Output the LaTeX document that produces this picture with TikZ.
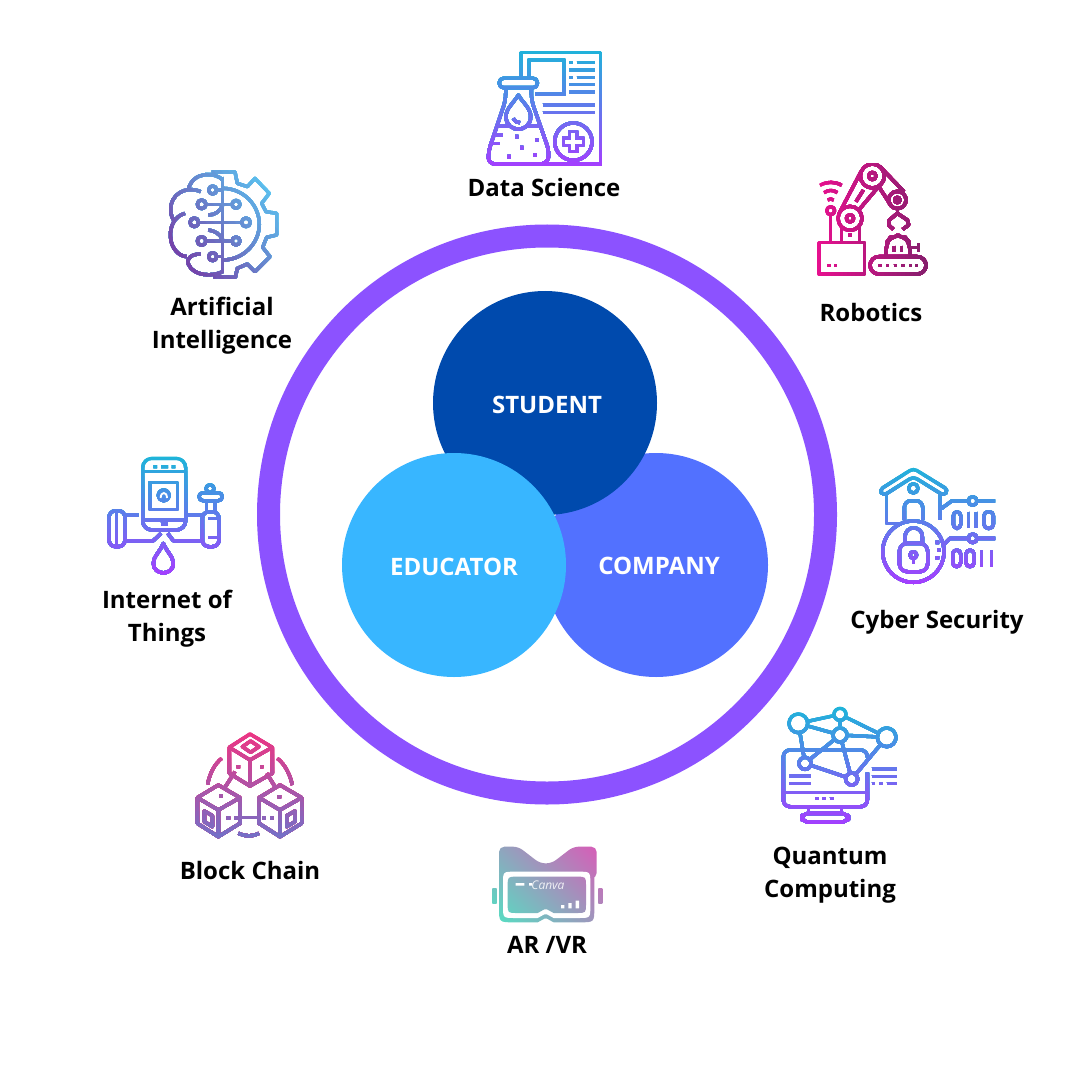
\documentclass[tikz,border=0pt]{standalone}
\usepackage{fontspec}
\setmainfont{Open Sans}
\usetikzlibrary{positioning}

\tikzset{
	iconline/.style={draw=iconcol, line width=2.5pt, line join=round},
	zoomed/.style={shift={#1},x=0.25pt,y=-0.25pt},
	netdot/.style={circle, draw=iconcol, line width=2.5pt, fill=none, inner sep=0pt},
	hubdisc/.style={circle, fill=#1, minimum size=168pt, inner sep=0pt},
	hubtext/.style={text=white, font=\bfseries\fontsize{18}{24}\selectfont},
	labeltext/.style={text=black, align=center, font=\bfseries\fontsize{18}{24.9}\selectfont},
	vrshade/.style={shading=axis, left color=vrteal, middle color=vrmid, right color=vrpink, shading angle=135},
}
\definecolor{ringpurple}{HTML}{8C52FF}
\definecolor{studentblue}{HTML}{004AAD}
\definecolor{companyblue}{HTML}{5271FF}
\definecolor{educatorblue}{HTML}{38B6FF}
\definecolor{cyantop}{HTML}{1CB6D9}
\definecolor{purplebot}{HTML}{A63CFF}
\definecolor{robotleft}{HTML}{E8108F}
\definecolor{robotright}{HTML}{841F6C}
\definecolor{chainpink}{HTML}{F5307E}
\definecolor{chainblue}{HTML}{6C74CC}
\definecolor{brainsky}{HTML}{58D2F8}
\definecolor{brainplum}{HTML}{7A2A9C}
\definecolor{vrpink}{HTML}{D262B8}
\definecolor{vrmid}{HTML}{93B0DC}
\definecolor{vrteal}{HTML}{58DCC2}

% paints one icon again and again, each time cut further along, to get the colour ramp
\newcommand{\gradbands}[6]{
	\foreach \k in {0,...,27} {
		\pgfmathsetmacro\mixval{\k*100/27}
		\colorlet{iconcol}{#5!\mixval!#4}
		\begin{scope}
			\clip[shift={#1},rotate=#3] (-#2,{-#2+\k*2*#2/28}) rectangle (#2,#2);
			#6
		\end{scope}
	}
}
\newcommand{\vrpart}[1]{
	\begin{scope}
		\clip #1;
		\shade[vrshade] (10,-20) rectangle (365,335);
	\end{scope}
}

\newcommand{\iconflask}{
	\begin{scope}[zoomed={(460,40)}]
		\draw[iconline] (183,115)--(183,38)--(422,38)--(422,372)--(250,372);
		\draw[iconline] (207,115)--(207,60)--(312,60)--(312,162)--(225,162);
		\draw[iconline] (328,68)--(340,68) (350,68)--(404,68);
		\draw[iconline] (328,90)--(404,90);
		\draw[iconline] (328,112)--(340,112) (350,112)--(404,112);
		\draw[iconline] (328,134)--(404,134);
		\draw[iconline] (328,156)--(404,156);
		\draw[iconline] (248,195)--(404,195);
		\draw[iconline] (248,218)--(404,218);
		\draw[iconline] (340,305) circle (56);
		\draw[iconline] (329,275)--(351,275)--(351,294)--(370,294)--(370,316)--(351,316)--(351,335)--(329,335)--(329,316)--(310,316)--(310,294)--(329,294)--cycle;
		\draw[iconline, rounded corners=3pt] (118,115) rectangle (232,143);
		\draw[iconline, rounded corners=5pt] (137,143)--(137,180)--(85,335)--(85,372)--(262,372)--(268,335)--(214,180)--(214,143);
		\draw[iconline] (175,165) .. controls (160,190) and (138,205) .. (138,230) .. controls (138,280) and (212,280) .. (212,230) .. controls (212,205) and (190,190) .. (175,165) -- cycle;
		\draw[iconline] (160,235) .. controls (165,245) and (172,248) .. (180,248);
		\draw[iconline] (112,258)--(150,258) (205,258)--(240,258);
		\draw[iconline] (105,285)--(130,285) (95,310)--(120,310);
		\fill[iconcol] (165,285) rectangle (175,295) (225,295) rectangle (235,305) (180,318) rectangle (190,328) (220,340) rectangle (230,350) (142,345) rectangle (152,355);
	\end{scope}
}

\newcommand{\iconrobot}{
	\begin{scope}[zoomed={(800,150)}]
		\draw[iconline] (60,106) .. controls (80,94) and (105,94) .. (125,106);
		\draw[iconline] (72,128) .. controls (85,119) and (100,119) .. (112,128);
		\draw[iconline] (83,150) .. controls (88,146) and (96,146) .. (101,150);
		\draw[iconline] (92,182) circle (12);
		\draw[iconline] (92,194)--(92,278);
		\draw[iconline] (57,278) rectangle (193,372);
		\draw[iconline] (82,346)--(92,346) (102,346)--(112,346);
		\draw[iconline] (150,205) circle (36);
		\draw[iconline] (150,205) circle (11);
		\draw[iconline] (124,278)--(124,232) (178,278)--(178,232);
		\fill[iconcol] (145,250) rectangle (156,262);
		\draw[iconline] (217,78) circle (36);
		\draw[iconline] (217,78) circle (11);
		\draw[iconline] (120,185)--(183,65) (178,178)--(238,107);
		\draw[iconline] (168,155)--(190,120);
		\draw[iconline] (240,50)--(312,125) (235,108)--(272,165);
		\draw[iconline] (292,150) circle (26);
		\draw[iconline] (292,150) circle (8);
		\draw[iconline] (292,176)--(292,190);
		\draw[iconline] (292,190)--(268,210)--(266,225)--(280,238);
		\draw[iconline] (292,190)--(322,210)--(326,225)--(308,238);
		\draw[iconline, rounded corners=6pt] (258,320)--(258,280)--(275,257)--(312,257)--(330,280)--(330,320);
		\draw[iconline] (282,288)--(282,306) (305,288)--(305,306);
		\draw[iconline] (330,292)--(355,292) (355,280)--(355,305);
		\draw[iconline, rounded corners=6.5pt] (210,320) rectangle (378,372);
		\draw[iconline] (235,347)--(245,347) (258,347)--(268,347) (281,347)--(291,347) (304,347)--(314,347) (327,347)--(337,347) (345,347)--(353,347);
	\end{scope}
}

\newcommand{\iconlock}{
	\begin{scope}[zoomed={(860,455)}]
		\draw[iconline, rounded corners=3pt] (58,105)--(160,40)--(265,105)--(252,122)--(160,65)--(70,122)--cycle;
		\draw[iconline] (80,114)--(80,205)--(120,205);
		\draw[iconline] (240,114)--(240,195);
		\draw[iconline] (160,100) circle (14);
		\draw[iconline, rounded corners=5pt] (133,195)--(133,137)--(188,137)--(188,195);
		\draw[iconline] (160,290) circle (92);
		\draw[iconline, rounded corners=6pt] (118,265) rectangle (203,350);
		\draw[iconline] (135,265)--(135,245) .. controls (135,210) and (187,210) .. (187,245) -- (187,265);
		\draw[iconline] (160,300) circle (10);
		\draw[iconline] (160,310)--(160,328);
		\fill[iconcol] (227,257) rectangle (237,267) (231,280) rectangle (241,290) (227,303) rectangle (237,313);
		\draw[iconline] (245,160)--(275,138)--(325,138) (351,138)--(405,138);
		\draw[iconline] (338,138) circle (13);
		\draw[iconline] (248,272)--(270,250)--(325,250) (351,250)--(405,250);
		\draw[iconline] (338,250) circle (13);
		\draw[iconline, rounded corners=3pt] (280,170) rectangle (302,220);
		\draw[iconline] (325,170)--(325,220) (348,170)--(348,220);
		\draw[iconline, rounded corners=3pt] (372,170) rectangle (400,220);
		\draw[iconline, rounded corners=3pt] (278,285) rectangle (302,335);
		\draw[iconline, rounded corners=3pt] (318,285) rectangle (342,335);
		\draw[iconline] (365,285)--(365,335) (395,285)--(395,335);
	\end{scope}
}

\newcommand{\iconquantum}{
	\begin{scope}[zoomed={(770,700)}]
		\node[netdot, minimum size=14pt] (qa) at (85,70) {};
		\node[netdot, minimum size=9pt] (qb) at (210,43) {};
		\node[netdot, minimum size=10.5pt] (qc) at (210,105) {};
		\node[netdot, minimum size=14pt] (qd) at (350,112) {};
		\node[netdot, minimum size=9pt] (qe) at (105,190) {};
		\node[netdot, minimum size=9pt] (qf) at (245,237) {};
		\draw[iconline] (qa)--(qb);
		\draw[iconline] (qa)--(qc);
		\draw[iconline] (qb)--(qc);
		\draw[iconline] (qb)--(qd);
		\draw[iconline] (qc)--(qd);
		\draw[iconline] (qa)--(qe);
		\draw[iconline] (qc)--(qe);
		\draw[iconline] (qc)--(qf);
		\draw[iconline] (qe)--(qf);
		\draw[iconline] (qd)--(qf);
		\draw[iconline, rounded corners=5pt] (292,172)--(292,150)--(40,150)--(40,320)--(292,320)--(292,218);
		\draw[iconline] (40,278)--(292,278);
		\draw[iconline] (58,228)--(122,228) (58,250)--(122,250);
		\draw[iconline] (135,296)--(147,296) (157,296)--(169,296) (179,296)--(191,296);
		\draw[iconline] (115,320)--(115,340) (215,320)--(215,340);
		\draw[iconline, rounded corners=5pt] (95,340) rectangle (235,366);
		\draw[iconline] (305,207)--(380,207) (305,229)--(380,229);
		\draw[iconline] (305,251)--(316,251) (327,251)--(338,251) (350,251)--(380,251);
	\end{scope}
}

\newcommand{\icongoggles}{
	\begin{scope}[zoomed={(485,835)}]
		\vrpart{[rounded corners=4pt] (42,130)--(42,35)--(100,35)--(165,85)--(200,85)--(265,35)--(335,35)--(335,130)--cycle}
		\vrpart{(87,98)--(283,98) .. controls (328,98) .. (328,143) -- (328,217) .. controls (328,262) .. (283,262) -- (206,262) .. controls (196,262) and (196,251) .. (186,251) -- (178,251) .. controls (168,251) and (168,262) .. (158,262) -- (87,262) .. controls (42,262) .. (42,217) -- (42,143) .. controls (42,98) .. (87,98) -- cycle}
		\fill[white] (90,110)--(280,110) .. controls (316,110) .. (316,146) -- (316,213) .. controls (316,249) .. (280,249) -- (206,249) .. controls (196,249) and (196,238) .. (186,238) -- (178,238) .. controls (168,238) and (168,249) .. (158,249) -- (90,249) .. controls (54,249) .. (54,213) -- (54,146) .. controls (54,110) .. (90,110) -- cycle;
		\vrpart{(96,125)--(275,125) .. controls (303,125) .. (303,153) -- (303,206) .. controls (303,234) .. (275,234) -- (206,234) .. controls (196,234) and (196,223) .. (186,223) -- (178,223) .. controls (168,223) and (168,234) .. (158,234) -- (96,234) .. controls (68,234) .. (68,206) -- (68,153) .. controls (68,125) .. (96,125) -- cycle}
		\vrpart{(22,160) rectangle (35,205)}
		\vrpart{(340,160) rectangle (352,205)}
		\fill[white] (92,144) rectangle (118,152) (132,144) rectangle (142,152);
		\fill[white] (228,210) rectangle (238,220) (250,204) rectangle (260,220) (272,197) rectangle (282,220);
	\end{scope}
}

\newcommand{\iconchain}{
	\begin{scope}[zoomed={(185,725)}]
		\draw[iconline] (195,27)--(262,67)--(262,145)--(195,183)--(133,145)--(133,67)--cycle;
		\draw[iconline] (133,67)--(195,105)--(262,67) (195,105)--(195,183);
		\draw[iconline] (197,48)--(222,65)--(197,82)--(172,65)--cycle;
		\fill[iconcol] (155,120) rectangle (165,130) (225,120) rectangle (235,130);
		\draw[iconline] (100,180)--(165,218)--(165,295)--(100,335)--(37,295)--(37,218)--cycle;
		\draw[iconline] (37,218)--(100,255)--(165,218) (100,255)--(100,335);
		\draw[iconline] (58,258)--(82,272)--(82,305)--(58,290)--cycle;
		\draw[iconline] (285,180)--(350,218)--(350,295)--(285,335)--(222,295)--(222,218)--cycle;
		\draw[iconline] (222,218)--(285,255)--(350,218) (285,255)--(285,335);
		\draw[iconline] (305,272)--(330,258)--(330,290)--(305,305)--cycle;
		\fill[iconcol] (103,208) rectangle (113,218) (278,210) rectangle (288,220);
		\fill[iconcol] (125,274) rectangle (135,284) (148,274) rectangle (158,284) (232,274) rectangle (242,284) (255,274) rectangle (265,284);
		\draw[iconline] (150,140)--(118,190) (245,145)--(270,185);
		\draw[iconline] (165,278)--(222,278);
		\draw[iconline] (110,100) .. controls (88,118) and (74,145) .. (68,178);
		\draw[iconline] (277,100) .. controls (300,118) and (315,148) .. (322,180);
		\draw[iconline] (160,325) .. controls (180,335) and (205,335) .. (222,325);
	\end{scope}
}

\newcommand{\iconphone}{
	\begin{scope}[zoomed={(95,450)}]
		\draw[iconline, rounded corners=7pt] (143,25) rectangle (272,240);
		\draw[iconline] (143,65)--(272,65) (143,210)--(272,210);
		\fill[iconcol] (175,45) rectangle (186,55) (198,45) rectangle (219,55) (230,45) rectangle (241,55);
		\draw[iconline] (197,222)--(218,222);
		\draw[iconline] (165,97) rectangle (248,178);
		\fill[iconcol] (206,136) circle (21);
		\draw[white, line width=1.4pt] (197,144) .. controls (197,124) and (216,124) .. (216,144);
		\draw[iconline, rounded corners=5pt] (42,182) rectangle (90,290);
		\draw[iconline] (65,182)--(65,290);
		\draw[iconline] (90,195)--(130,195) (90,272)--(175,272)--(198,250);
		\draw[iconline] (218,250)--(235,272)--(322,272) (275,195)--(322,195);
		\draw[iconline, rounded corners=5pt] (322,185) rectangle (372,290);
		\draw[iconline] (340,262)--(372,262) (340,205)--(372,205);
		\draw[iconline, rounded corners=3pt] (312,128) rectangle (382,152);
		\draw[iconline] (345,116) circle (12);
		\draw[iconline] (334,152)--(334,185) (360,152)--(360,185);
		\draw[iconline] (205,280) .. controls (195,305) and (175,320) .. (175,340) .. controls (175,378) and (235,378) .. (235,340) .. controls (235,320) and (215,305) .. (205,280) -- cycle;
	\end{scope}
}

\newcommand{\iconbrain}{
	\begin{scope}[zoomed={(160,160)}]
		\draw[iconline] (155,36)--(225,36)--(232,70)--(262,80)--(285,55)--(328,100)--(305,130)--(318,155)--(350,160)--(350,225)--(320,232)--(308,262)--(330,290)--(285,335)--(262,312)--(232,325)--(226,352)--(160,350);
		\draw[iconline] (188,85) .. controls (250,85) and (298,135) .. (298,193) .. controls (298,250) and (250,300) .. (188,300);
		\draw[iconline] (188,50)--(188,340);
		\draw[iconline] (188,60) .. controls (170,38) and (100,30) .. (85,88);
		\draw[iconline] (122,95) .. controls (75,75) and (30,105) .. (32,150) .. controls (32,165) and (38,178) .. (45,185);
		\draw[iconline] (75,160) .. controls (40,170) and (28,205) .. (32,235) .. controls (35,265) and (55,288) .. (80,290);
		\draw[iconline] (122,282) .. controls (95,282) and (78,295) .. (85,312) .. controls (100,350) and (160,350) .. (188,335);
		\draw[iconline] (170,90)--(188,90) (138,133)--(216,133) (116,187)--(245,187) (138,243)--(216,243) (170,290)--(188,290);
		\draw[iconline] (158,90) circle (12);
		\draw[iconline] (125,133) circle (13);
		\draw[iconline] (228,133) circle (12);
		\draw[iconline] (103,187) circle (13);
		\draw[iconline] (258,187) circle (13);
		\draw[iconline] (125,243) circle (13);
		\draw[iconline] (228,243) circle (12);
		\draw[iconline] (158,290) circle (12);
		\draw[iconline] (145,165) .. controls (165,165) and (180,155) .. (188,135);
		\draw[iconline] (145,210) .. controls (165,212) and (180,222) .. (188,240);
	\end{scope}
}

\begin{document}
\begin{tikzpicture}[x=0.75pt,y=-0.75pt]
	\useasboundingbox (0,0) rectangle (1080,1080);
	\fill[white] (0,0) rectangle (1080,1080);

	\draw[ringpurple, line width=17.25pt] (547,514.5) circle (278.5);

	\node[hubdisc=companyblue] (company) at (656,565) {};
	\node[hubdisc=studentblue] (student) at (545,403) {};
	\node[hubdisc=educatorblue] (educator) at (454,565) {};
	\node[hubtext] at (547,405) {STUDENT};
	\node[hubtext] at (454,567) {EDUCATOR};
	\node[hubtext] at (659,566) {COMPANY};

	\gradbands{(545,108)}{62}{0}{cyantop}{purplebot}{\iconflask}
	\gradbands{(872,222)}{58}{90}{robotleft}{robotright}{\iconrobot}
	\gradbands{(937,525)}{62}{0}{cyantop}{purplebot}{\iconlock}
	\gradbands{(838,766)}{62}{0}{cyantop}{purplebot}{\iconquantum}
	\gradbands{(250,785)}{62}{0}{chainpink}{chainblue}{\iconchain}
	\gradbands{(165,516)}{62}{0}{cyantop}{purplebot}{\iconphone}
	\gradbands{(222,224)}{78}{-50}{brainsky}{brainplum}{\iconbrain}
	\icongoggles

	\node[text=white, opacity=0.85, font=\itshape\fontsize{9}{10}\selectfont] (canvamark) at (548,885) {Canva};

	\node[labeltext] (datalabel) at (544,188) {Data Science};
	\node[labeltext] (robotlabel) at (871,312) {Robotics};
	\node[labeltext] (cyberlabel) at (937,622) {Cyber Security};
	\node[labeltext] (quantumlabel) at (830,875) {Quantum\\Computing};
	\node[labeltext] (arvrlabel) at (547,945) {AR /VR};
	\node[labeltext] (chainlabel) at (250,870) {Block Chain};
	\node[labeltext] (iotlabel) at (167,619) {Internet of\\Things};
	\node[labeltext] (ailabel) at (222,326) {Artificial\\Intelligence};
\end{tikzpicture}
\end{document}
